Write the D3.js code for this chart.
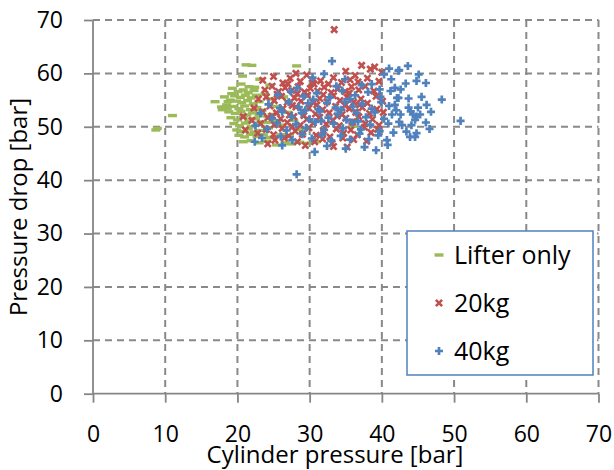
<!DOCTYPE html>
<html>
<head>
<meta charset="utf-8">
<script src="https://cdn.jsdelivr.net/npm/d3@7"></script>
<style>
  body { margin: 0; background: #fff; }
  text { font-family: "Open Sans", "Noto Sans", sans-serif; fill: #000; }
</style>
</head>
<body>
<svg id="chart" width="614" height="470"></svg>
<script>
// 数据: [cylinder pressure, pressure drop]
const lifterOnly = [
  [8.7,49.4],[8.9,49.7],[11.0,52.1],[16.9,54.7],[17.8,53.7],[18.3,53.7],[18.7,54.7],[18.6,53.4],
  [21.2,61.6],[22.0,61.5],[28.2,61.4],[20.7,59.5],[23.1,58.9],[22.4,57.4],[24.5,57.8],
  [19.2,56.2],[20.1,56.6],[20.8,56.9],[21.5,56.4],[22.3,56.8],[19.6,55.8],[20.4,55.5],[21.1,55.9],
  [21.9,55.4],[22.6,55.9],[19.0,55.0],[19.9,54.8],[20.6,54.5],[21.4,54.9],[22.2,54.3],[23.0,54.7],
  [18.5,54.1],[19.4,53.8],[20.2,53.4],[21.0,53.9],[21.8,53.2],[22.7,53.6],[23.4,53.1],[18.8,52.8],
  [19.7,52.5],[20.5,52.9],[21.3,52.2],[22.1,52.6],[23.0,52.1],[19.1,51.7],[20.0,51.3],[20.8,51.8],
  [21.6,51.1],[22.5,51.5],[23.3,50.9],[19.5,50.6],[20.3,50.2],[21.1,50.7],[21.9,50.0],[22.8,50.4],
  [24.0,50.8],[19.9,49.4],[20.7,49.1],[21.5,49.6],[22.3,49.0],[23.2,49.3],[24.3,49.8],[20.2,48.4],
  [21.0,48.1],[21.8,48.6],[22.7,48.2],[23.6,48.5],[24.5,48.0],[20.8,47.2],[21.9,47.4],[23.0,47.0],
  [24.1,47.3],[25.4,46.6],[26.6,47.0],[27.4,46.8],[28.6,47.1],[29.8,46.9],[30.9,47.2],[25.1,48.1],
  [26.0,48.5],[27.2,48.3],[24.8,52.3],[25.5,51.2],[24.6,55.2],[25.3,53.8],[26.1,50.3],[27.0,52.7],
  [26.4,55.6],[23.8,56.1],[24.2,51.9],[18.2,55.6],[17.9,53.2],[21.6,57.5],[20.5,58.0],[19.3,57.2],
  [36.0,50.1],[28.8,49.5],[27.8,51.2]
];

const kg20 = [
  [33.4,68.2],
  [37.2,61.5],[39.0,61.2],[38.4,60.8],[40.0,60.2],[35.0,60.4],[36.3,59.6],[29.6,59.7],[28.1,60.0],
  [25.0,59.4],[27.3,59.1],[33.3,59.2],[31.5,58.6],[23.5,58.7],[26.3,58.2],[28.7,58.5],[30.4,58.3],
  [32.6,58.0],[34.4,58.3],[36.7,58.4],[38.0,59.1],[39.6,58.5],[35.6,58.8],
  [23.8,56.9],[24.8,57.6],[25.7,56.6],[26.6,57.3],[27.5,56.8],[28.4,57.5],[29.3,56.5],[30.1,57.2],
  [31.1,56.7],[32.0,57.4],[33.0,56.4],[33.9,57.1],[34.9,56.6],[35.8,57.5],[36.8,56.9],[37.7,57.6],
  [38.9,56.7],[30.6,58.0],[27.0,58.0],
  [22.9,55.2],[24.0,55.6],[25.1,54.9],[26.1,55.7],[26.9,54.6],[27.9,55.4],[28.8,54.8],[29.7,55.9],
  [30.5,54.5],[31.4,55.3],[32.4,54.7],[33.3,55.8],[34.2,54.9],[35.2,55.5],[36.1,54.6],[37.1,55.2],
  [38.0,54.4],[39.2,55.7],[40.1,54.8],[25.5,56.1],[28.3,56.2],[31.9,56.0],[35.5,56.3],
  [22.3,53.5],[23.5,52.8],[24.5,53.9],[25.4,52.6],[26.3,53.4],[27.2,52.2],[28.1,53.7],[29.0,52.9],
  [29.9,53.5],[30.8,52.4],[31.8,53.2],[32.7,52.6],[33.6,53.8],[34.5,52.3],[35.5,53.4],[36.4,52.7],
  [37.3,53.6],[38.3,52.5],[39.3,53.3],[40.2,52.7],[27.6,54.0],[31.0,54.1],[34.9,54.0],[36.9,54.1],
  [20.8,51.9],[22.0,51.2],[23.2,50.6],[24.2,51.7],[25.1,50.4],[26.0,51.5],[26.9,50.8],[27.8,51.9],
  [28.7,50.3],[29.6,51.4],[30.5,50.7],[31.4,51.8],[32.3,50.5],[33.2,51.2],[34.1,50.2],[35.0,51.6],
  [35.9,50.9],[36.8,51.9],[37.7,50.6],[38.7,51.4],[39.6,50.3],[24.8,52.0],[29.2,52.1],[33.8,52.0],
  [21.1,49.4],[22.8,48.8],[24.0,49.5],[25.0,48.5],[26.2,49.7],[27.1,48.3],[28.0,49.2],[29.0,48.6],
  [29.9,49.8],[30.9,48.4],[31.9,49.3],[32.8,48.1],[33.7,49.6],[34.7,48.8],[35.7,49.4],[36.6,48.5],
  [37.6,49.9],[38.5,48.9],[39.4,49.5],[27.6,50.0],
  [25.2,47.5],[26.5,47.9],[28.3,47.2],[30.7,47.2],[33.1,46.9],[34.6,47.9],[33.3,46.3],[31.8,47.7],
  [36.1,47.6],[37.9,47.3],[29.4,46.5],[35.2,46.2],[24.2,46.8]
];

const kg40 = [
  [28.2,41.1],[33.1,62.3],[50.9,51.1],[48.3,55.1],
  [42.4,60.6],[43.6,61.4],[45.1,59.8],[44.8,58.6],[43.3,58.1],[46.1,58.2],[42.3,55.4],[43.7,55.3],
  [45.5,55.6],[46.2,54.1],[46.8,52.8],[41.8,54.1],[42.0,53.1],[42.6,52.3],[43.7,53.6],[44.0,52.9],
  [44.3,52.3],[45.0,53.6],[44.8,51.9],[45.3,52.3],[44.6,51.3],[42.4,50.9],[42.8,50.3],[44.1,50.3],
  [46.1,50.8],[46.6,49.6],[43.4,49.1],[43.9,48.1],[44.6,48.1],[44.8,48.8],
  [41.0,60.9],[42.3,60.5],[41.3,58.9],[39.7,57.0],[42.1,55.4],[30.4,59.2],[32.0,59.9],[34.9,58.9],
  [38.6,58.0],[40.3,59.8],[41.8,57.3],[42.6,57.0],
  [25.6,56.0],[27.4,56.6],[29.2,55.7],[31.0,56.3],[32.8,55.5],[34.5,56.8],[36.3,55.9],[38.1,56.5],
  [39.8,55.6],[41.2,56.7],[28.3,57.3],[33.7,57.6],[37.2,57.8],
  [24.3,54.2],[25.9,53.5],[27.1,54.6],[28.5,53.7],[29.8,54.4],[31.2,53.3],[32.4,54.5],[33.6,53.6],
  [34.9,54.7],[36.0,53.8],[37.3,54.3],[38.6,53.4],[39.9,54.6],[41.0,53.9],[30.5,55.1],[35.6,55.2],
  [23.2,52.5],[24.8,51.6],[26.2,52.8],[27.5,51.9],[28.9,52.6],[30.0,51.4],[31.4,52.9],[32.6,51.7],
  [33.9,52.4],[35.1,51.3],[36.5,52.6],[37.8,51.8],[39.0,52.7],[40.3,51.5],[41.4,52.3],[29.4,53.1],
  [34.4,53.2],
  [22.5,50.2],[24.1,49.6],[25.5,50.7],[26.8,49.3],[28.1,50.5],[29.5,49.8],[30.8,50.9],[32.0,49.4],
  [33.3,50.6],[34.6,49.7],[35.9,50.8],[37.1,49.5],[38.4,50.4],[39.7,49.2],[40.9,50.6],[31.6,51.1],
  [36.7,51.0],
  [23.4,47.9],[26.0,48.2],[27.6,47.5],[29.0,48.6],[30.3,47.8],[31.7,48.5],[33.0,47.4],[34.3,48.3],
  [35.6,47.6],[36.9,48.7],[38.2,47.7],[39.5,48.4],[40.7,47.5],[41.6,48.9],
  [30.7,45.3],[32.4,46.4],[35.0,45.9],[37.6,46.2],[40.8,46.6],[39.2,45.6],[26.2,46.5],[22.4,47.2]
];

const seriesNames = ["Lifter only", "20kg", "40kg"];
const seriesColors = ["#9BBB59", "#C0504D", "#4F81BD"];
const ticks = [0, 10, 20, 30, 40, 50, 60, 70];

const svg = d3.select("#chart");
const plotLeft = 93, plotRight = 598.5, plotTop = 20, plotBottom = 393.7;

const x = d3.scaleLinear().domain([0, 70]).range([plotLeft, plotRight]);
const y = d3.scaleLinear().domain([0, 70]).range([plotBottom, plotTop]);

const gridColor = "#898989";

// 网格线
const grid = svg.append("g");
grid.selectAll("line.h").data(ticks.slice(1)).join("line")
  .attr("class", "h")
  .attr("x1", plotLeft).attr("x2", plotRight)
  .attr("y1", d => y(d)).attr("y2", d => y(d))
  .attr("stroke", gridColor).attr("stroke-width", 2)
  .attr("stroke-dasharray", "7,5");
grid.selectAll("line.v").data(ticks.slice(1)).join("line")
  .attr("class", "v")
  .attr("y1", plotTop).attr("y2", plotBottom)
  .attr("x1", d => x(d)).attr("x2", d => x(d))
  .attr("stroke", gridColor).attr("stroke-width", 2)
  .attr("stroke-dasharray", "7,5");

// 坐标轴
const yAxis = svg.append("g")
  .attr("transform", `translate(${plotLeft},0)`)
  .call(d3.axisLeft(y).tickValues(ticks).tickSize(9).tickPadding(21));
const xAxis = svg.append("g")
  .attr("transform", `translate(0,${plotBottom})`)
  .call(d3.axisBottom(x).tickValues(ticks).tickSize(9).tickPadding(23));

[xAxis, yAxis].forEach(a => {
  a.select(".domain").attr("stroke", "#868686").attr("stroke-width", 1.8);
  a.selectAll(".tick line").attr("stroke", "#868686").attr("stroke-width", 1.8);
  a.selectAll(".tick text").attr("font-size", 23).attr("fill", "#000")
    .style("font-family", '"Open Sans", "Noto Sans", sans-serif');
});
yAxis.select(".domain").attr("d", `M0,${plotBottom}V${plotTop}`);
xAxis.select(".domain").attr("d", `M${plotLeft},0H${plotRight}`);

// 标记
function drawMarker(g, type, color) {
  if (type === 0) {
    g.append("rect").attr("x", -4.5).attr("y", -1.7).attr("width", 9).attr("height", 3.4)
      .attr("fill", color);
  } else if (type === 1) {
    g.append("path").attr("d", "M-3.1,-3.1L3.1,3.1M-3.1,3.1L3.1,-3.1")
      .attr("stroke", color).attr("stroke-width", 2.6).attr("fill", "none");
  } else {
    g.append("path").attr("d", d3.symbol(d3.symbolCross, 36)())
      .attr("fill", color);
  }
}

const allSeries = [lifterOnly, kg20, kg40];
allSeries.forEach((data, i) => {
  const g = svg.append("g");
  g.selectAll("g").data(data).join("g")
    .attr("transform", d => `translate(${x(d[0])},${y(d[1])})`)
    .each(function() { drawMarker(d3.select(this), i, seriesColors[i]); });
});

// 图例
const legend = svg.append("g");
legend.append("rect")
  .attr("x", 407).attr("y", 231).attr("width", 186).attr("height", 144)
  .attr("fill", "#fff").attr("stroke", "#4F81BD").attr("stroke-width", 1.5);
seriesNames.forEach((name, i) => {
  const row = legend.append("g").attr("transform", `translate(439,${255 + i * 48})`);
  drawMarker(row.append("g"), i, seriesColors[i]);
  row.append("text").attr("x", 15).attr("dy", "0.35em")
    .attr("font-size", 25).text(name);
});

// 轴标题
svg.append("text")
  .attr("x", 335).attr("y", 463)
  .attr("text-anchor", "middle").attr("font-size", 24)
  .text("Cylinder pressure [bar]");
svg.append("text")
  .attr("transform", "translate(27,207) rotate(-90)")
  .attr("text-anchor", "middle").attr("font-size", 24)
  .text("Pressure drop [bar]");
</script>
</body>
</html>
